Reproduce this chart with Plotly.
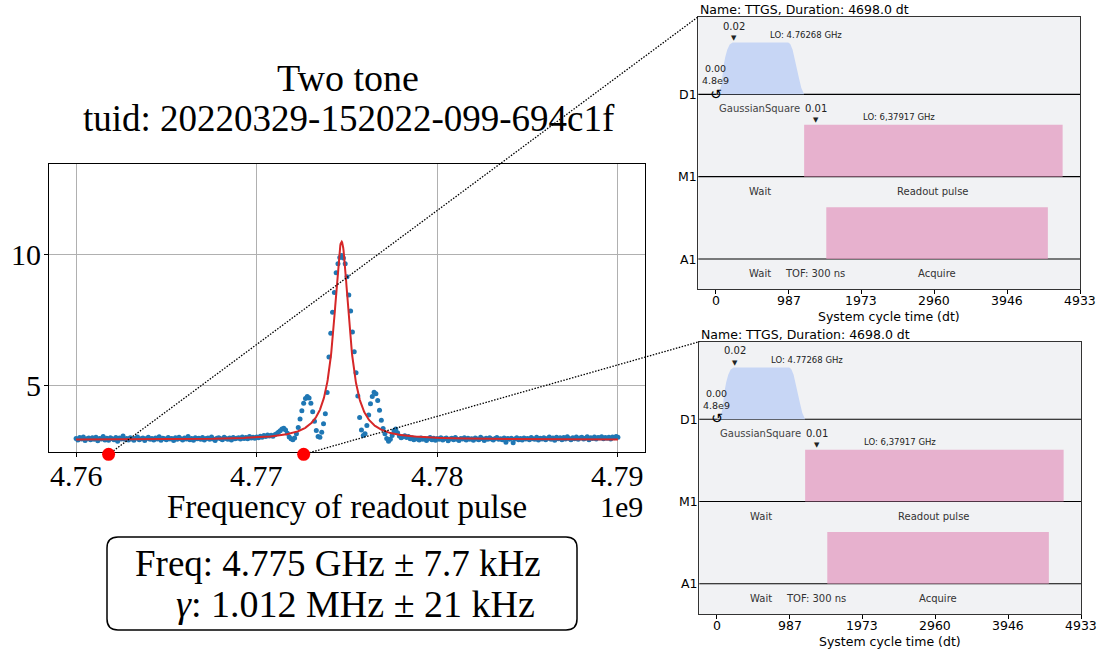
import numpy as np
import plotly.graph_objects as go

W, H = 1098, 652

# ---------------- two-tone sweep ----------------
f_start = 4.760e9
f_stop = 4.790e9
n_points = 301

magnitude = [
    3.00, 2.95, 3.04, 2.98, 3.06, 2.93, 2.99, 3.02, 2.96, 3.03,
    2.97, 3.05, 2.92, 3.00, 2.98, 3.08, 2.95, 3.01, 2.94, 3.03,
    2.99, 2.96, 3.04, 2.90, 3.02, 2.98, 3.10, 2.97, 3.00, 2.95,
    3.03, 2.98, 2.94, 3.01, 3.06, 2.96, 2.99, 3.02, 2.93, 3.00,
    3.05, 2.97, 3.00, 2.95, 3.02, 2.98, 3.07, 2.94, 3.01, 2.99,
    2.96, 3.04, 2.98, 3.00, 2.93, 3.03, 2.97, 3.05, 2.99, 2.95,
    3.02, 2.98, 3.08, 2.96, 3.00, 2.94, 3.03, 2.99, 3.01, 2.97,
    3.04, 2.95, 3.00, 3.02, 2.97, 3.06, 2.98, 2.93, 3.01, 3.03,
    2.99, 2.96, 3.05, 3.00, 2.97, 3.02, 2.95, 3.04, 2.99, 3.01,
    3.03, 2.98, 3.06, 3.00, 3.04, 2.99, 3.08, 3.02, 3.05, 3.01,
    3.06, 3.03, 3.09, 3.05, 3.12, 3.08, 3.14, 3.10, 3.13, 3.09,
    3.15, 3.18, 3.24, 3.30, 3.36, 3.39, 3.33, 3.20, 3.06, 2.99,
    2.96, 3.02, 3.18, 3.42, 3.74, 4.06, 4.34, 4.52, 4.60, 4.54,
    4.34, 4.02, 3.66, 3.31, 3.08, 3.05, 3.24, 3.56, 3.94, 4.75,
    6.10, 7.00, 7.80, 8.55, 9.30, 9.64, 9.88, 9.95, 9.86, 9.64,
    9.15, 8.45, 7.85, 7.05, 6.30, 5.50, 4.62, 3.80, 3.33, 3.12,
    3.18, 3.50, 3.90, 4.32, 4.60, 4.76, 4.70, 4.45, 4.08, 3.70,
    3.38, 3.18, 3.00, 2.90, 2.97, 3.12, 3.30, 3.36, 3.22, 3.10,
    3.03, 3.07, 3.11, 3.04, 3.08, 2.99, 3.03, 2.96, 3.01, 2.98,
    2.95, 3.02, 2.97, 3.00, 2.93, 2.99, 3.04, 2.96, 3.01, 2.94,
    3.00, 2.97, 3.03, 2.95, 2.99, 3.02, 2.92, 2.98, 3.01, 2.96,
    3.04, 2.97, 2.93, 3.00, 2.98, 3.03, 2.95, 3.01, 2.97, 2.99,
    2.94, 3.02, 2.98, 2.96, 3.05, 2.99, 2.93, 3.01, 2.97, 3.03,
    2.98, 2.95, 3.00, 3.04, 2.97, 2.99, 2.96, 3.02, 2.86, 3.00,
    2.97, 3.01, 2.84, 2.98, 3.03, 2.96, 3.00, 2.95, 3.02, 2.98,
    3.00, 2.96, 3.04, 2.99, 2.97, 3.05, 2.95, 3.01, 2.98, 3.03,
    2.96, 3.00, 3.06, 2.97, 3.02, 2.94, 3.05, 2.99, 3.03, 2.96,
    3.04, 2.98, 3.07, 3.00, 2.96, 3.03, 2.99, 3.06, 2.97, 3.02,
    3.05, 2.98, 3.01, 3.07, 2.96, 3.03, 3.00, 3.06, 2.98, 3.04,
    3.02, 3.07, 2.99, 3.04, 3.01, 3.05, 2.98, 3.06, 3.03, 3.08,
    3.05,
]
assert len(magnitude) == n_points
frequency = np.linspace(f_start, f_stop, n_points)

# Lorentzian fit result
fit_f0 = 4.7747e9          # Hz
fit_f0_err = 7.7e3         # Hz
fit_gamma = 1.012e6        # Hz (full width)
fit_gamma_err = 21e3       # Hz
fit_amplitude = 7.52
fit_offset = 2.96

# sweep points picked out for the pulse schedules
marker_freqs = [4.7618e9, 4.7726e9]
marker_level = 2.40

x_ticks = [4.76e9, 4.77e9, 4.78e9, 4.79e9]
y_ticks = [5, 10]

# ---------------- pulse schedule (TTGS) ----------------
duration = 4698
drive_t = [0, 50, 80, 105, 130, 157, 190, 230, 983, 1010, 1042, 1070, 1097, 1130, 1160, 1186, 1198]
drive_env = [0, 0.05, 0.2, 0.53, 0.72, 0.86, 0.96, 1.0, 1.0, 0.97, 0.86, 0.7, 0.53, 0.3, 0.12, 0.02, 0]
readout_start, readout_stop = 1198, 4698
acquire_start, acquire_stop = 1498, 4498
drive_lo = ["LO: 4.76268 GHz", "LO: 4.77268 GHz"]
meas_lo = "LO: 6,37917 GHz"
channels = ["D1", "M1", "A1"]
channel_offset = [2, 1, 0]

# ---------------- geometry ----------------
def px_x(p):
    return p / W

def px_y(p):
    return 1 - p / H

main_xd = [px_x(49), px_x(645)]
main_yd = [px_y(452), px_y(164)]
main_xr = [4.7585e9, 4.7915e9]
main_yr = [2.49, 13.43]

tick_vals = [round(v) for v in np.linspace(0, 1.05 * duration, 6)]

panel_xd = [[px_x(698.3), px_x(1080)], [px_x(699.3), px_x(1081)]]
panel_yd = [[px_y(289.3), px_y(16.7)], [px_y(614), px_y(341.7)]]
panel_xr = [-0.05 * duration, max(1.05 * duration, tick_vals[-1]) + 0.01]
panel_yr = [-0.368, 2.943]
pulse_h = 0.63

SERIF = "Liberation Serif, Times New Roman, serif"
SANS = "DejaVu Sans, sans-serif"

BLUE = "#1f77b4"
FIT_RED = "#d62728"
DRIVE_FILL = "#c7d6f5"
MEAS_FILL = "rgba(226,150,190,0.7)"
PANEL_BG = "#f1f2f4"


# full-figure overlay axes sharing the main frequency/magnitude scale,
# so connectors can run from the sweep plot into the schedule panels
def _extend(r, d):
    slope = (r[1] - r[0]) / (d[1] - d[0])
    return [r[0] - d[0] * slope, r[1] + (1 - d[1]) * slope]

over_xr = _extend(main_xr, main_xd)
over_yr = _extend(main_yr, main_yd)


def paper_to_over(px, py):
    return (over_xr[0] + px * (over_xr[1] - over_xr[0]),
            over_yr[0] + py * (over_yr[1] - over_yr[0]))


fig = go.Figure()

# measured data and fit
fig.add_trace(go.Scatter(
    x=frequency, y=magnitude, mode="markers",
    marker=dict(color=BLUE, size=5),
    xaxis="x", yaxis="y"))

f_fine = np.linspace(f_start, f_stop, 1500)
hw = fit_gamma / 2
fit_curve = fit_offset + fit_amplitude * hw**2 / ((f_fine - fit_f0) ** 2 + hw**2)
fig.add_trace(go.Scatter(
    x=f_fine, y=fit_curve, mode="lines",
    line=dict(color=FIT_RED, width=2),
    xaxis="x", yaxis="y"))

fig.update_layout(
    xaxis=dict(domain=main_xd, range=main_xr, tickvals=x_ticks,
               showticklabels=False,
               showgrid=True, gridcolor="#b0b0b0", gridwidth=1,
               showline=True, linecolor="black", linewidth=1.2, mirror=True,
               ticks="outside", ticklen=4, tickcolor="black",
               zeroline=False, anchor="y"),
    yaxis=dict(domain=main_yd, range=main_yr, tickvals=y_ticks,
               showticklabels=False,
               showgrid=True, gridcolor="#b0b0b0", gridwidth=1,
               showline=True, linecolor="black", linewidth=1.2, mirror=True,
               ticks="outside", ticklen=4, tickcolor="black",
               zeroline=False, anchor="x"),
    xaxis4=dict(domain=[0, 1], range=over_xr, anchor="y4",
                showgrid=False, zeroline=False, showline=False,
                showticklabels=False, ticks=""),
    yaxis4=dict(domain=[0, 1], range=over_yr, anchor="x4",
                showgrid=False, zeroline=False, showline=False,
                showticklabels=False, ticks=""),
)

annotations = []
shapes = []

tick_font = dict(family=SERIF, size=30, color="black")
for v in x_ticks:
    annotations.append(dict(text=f"{v / 1e9:.2f}", x=v, y=px_y(475), xref="x", yref="paper",
                            showarrow=False, xanchor="center", yanchor="middle",
                            font=tick_font))
for v in y_ticks:
    annotations.append(dict(text=str(v), x=px_x(43), y=v, xref="paper", yref="y",
                            showarrow=False, xanchor="right", yanchor="middle",
                            font=tick_font))

annotations += [
    dict(text="Two tone", x=px_x(348), y=px_y(78), xref="paper", yref="paper",
         showarrow=False, font=dict(family=SERIF, size=38, color="black"),
         xanchor="center", yanchor="middle"),
    dict(text="tuid: 20220329-152022-099-694c1f", x=px_x(349), y=px_y(118),
         xref="paper", yref="paper", showarrow=False,
         font=dict(family=SERIF, size=37, color="black"),
         xanchor="center", yanchor="middle"),
    dict(text="Frequency of readout pulse", x=px_x(347), y=px_y(507),
         xref="paper", yref="paper", showarrow=False,
         font=dict(family=SERIF, size=33, color="black"),
         xanchor="center", yanchor="middle"),
    dict(text="1e9", x=main_xd[1], y=px_y(507), xref="paper", yref="paper",
         showarrow=False, font=dict(family=SERIF, size=30, color="black"),
         xanchor="right", yanchor="middle"),
    dict(text=f"Freq: {fit_f0 / 1e9:.3f} GHz ± {fit_f0_err / 1e3:.1f} kHz",
         x=px_x(338), y=px_y(563), xref="paper", yref="paper", showarrow=False,
         font=dict(family=SERIF, size=37, color="black"),
         xanchor="center", yanchor="middle"),
    dict(text=f"<i>γ</i>: {fit_gamma / 1e6:.3f} MHz ± {fit_gamma_err / 1e3:.0f} kHz",
         x=px_x(355), y=px_y(604), xref="paper", yref="paper", showarrow=False,
         font=dict(family=SERIF, size=38, color="black"),
         xanchor="center", yanchor="middle"),
]

# rounded result box
bx0, bx1 = px_x(107), px_x(577)
by0, by1 = px_y(630), px_y(537)
rx, ry = 11 / W, 11 / H
box_path = (f"M {bx0 + rx},{by1} L {bx1 - rx},{by1} Q {bx1},{by1} {bx1},{by1 - ry} "
            f"L {bx1},{by0 + ry} Q {bx1},{by0} {bx1 - rx},{by0} "
            f"L {bx0 + rx},{by0} Q {bx0},{by0} {bx0},{by0 + ry} "
            f"L {bx0},{by1 - ry} Q {bx0},{by1} {bx0 + rx},{by1} Z")
shapes.append(dict(type="path", path=box_path, xref="paper", yref="paper",
                   line=dict(color="black", width=1.5), fillcolor="rgba(0,0,0,0)"))

for k in range(2):
    xa = f"x{k + 2}"
    ya = f"y{k + 2}"
    xd, yd = panel_xd[k], panel_yd[k]
    fig.layout[f"xaxis{k + 2}"] = dict(
        domain=xd, range=panel_xr, anchor=ya, tickvals=tick_vals,
        showticklabels=False,
        showgrid=False, zeroline=False, showline=True, linecolor="#333",
        linewidth=1.2, mirror=True, ticks="outside", ticklen=4,
        tickcolor="black")
    fig.layout[f"yaxis{k + 2}"] = dict(
        domain=yd, range=panel_yr, anchor=xa, showticklabels=False,
        showgrid=False, zeroline=False, showline=True, linecolor="#333",
        linewidth=1.2, mirror=True, ticks="")

    for tv in tick_vals:
        annotations.append(dict(text=str(tv), x=tv, y=yd[0], xref=xa, yref="paper",
                                showarrow=False, xanchor="center", yanchor="middle",
                                yshift=-11.5, borderpad=0,
                                font=dict(family=SANS, size=12.5, color="black")))

    shapes.append(dict(type="rect", xref=f"{xa} domain", yref=f"{ya} domain",
                       x0=0, x1=1, y0=0, y1=1, fillcolor=PANEL_BG,
                       line=dict(width=0), layer="below"))
    for off in channel_offset:
        shapes.append(dict(type="line", xref=f"{xa} domain", yref=ya,
                           x0=0, x1=1, y0=off, y1=off,
                           line=dict(color="black", width=1.2), layer="below"))

    # drive pulse envelope
    fig.add_trace(go.Scatter(
        x=drive_t, y=[channel_offset[0] + pulse_h * a for a in drive_env],
        mode="lines", fill="toself", fillcolor=DRIVE_FILL,
        line=dict(width=0), xaxis=xa, yaxis=ya))
    # readout & acquisition windows
    for ch, (s, e) in ((1, (readout_start, readout_stop)), (2, (acquire_start, acquire_stop))):
        base = channel_offset[ch]
        fig.add_trace(go.Scatter(
            x=[s, s, e, e, s], y=[base, base + pulse_h, base + pulse_h, base, base],
            mode="lines", fill="toself", fillcolor=MEAS_FILL,
            line=dict(width=0), xaxis=xa, yaxis=ya))

    def note(text, x, y, size=10, color="#222", anchor="center"):
        annotations.append(dict(text=text, x=x, y=y, xref=xa, yref=ya,
                                showarrow=False, xanchor=anchor, yanchor="middle",
                                borderpad=0,
                                font=dict(family=SANS, size=size, color=color)))

    drive_mid = (drive_t[0] + drive_t[-1]) / 2
    note("0.02", 252, 2.83)
    note("▼", 252, 2.685, size=7)
    note(drive_lo[k], 1219, 2.724, size=8.5)
    note("0.00<br>4.8e9", 0, 2.24, size=9.5)
    note("↺", 0, 2.01, size=14, color="black")
    note("GaussianSquare", drive_mid, 1.83, color="#444")
    note("0.01", 1362, 1.83)
    note("▼", 1362, 1.688, size=7)
    note(meas_lo, 2482, 1.72, size=8.5)
    note("Wait", drive_mid, 0.815, color="#333")
    note("Readout pulse", (readout_start + readout_stop) / 2, 0.815, color="#333")
    note("Wait", drive_mid, -0.18, color="#333")
    note("TOF: 300 ns", (readout_start + acquire_start) / 2, -0.18, color="#333")
    note("Acquire", (acquire_start + acquire_stop) / 2, -0.18, color="#333")

    for name, off in zip(channels, channel_offset):
        annotations.append(dict(text=name, x=xd[0], y=off, xref="paper", yref=ya,
                                showarrow=False, xanchor="right", yanchor="middle",
                                xshift=1,
                                font=dict(family=SANS, size=12.5, color="black")))
    annotations.append(dict(text=f"Name: TTGS, Duration: {duration:.1f} dt",
                            x=xd[0], y=yd[1], xref="paper", yref="paper",
                            showarrow=False, xanchor="left", yanchor="bottom",
                            yshift=-2,
                            font=dict(family=SANS, size=12.5, color="black")))
    annotations.append(dict(text="System cycle time (dt)",
                            x=(xd[0] + xd[1]) / 2, y=yd[0], xref="paper", yref="paper",
                            showarrow=False, xanchor="center", yanchor="middle",
                            yshift=-27.5, borderpad=0,
                            font=dict(family=SANS, size=12.5, color="black")))

    # dotted connector from the picked sweep point to the schedule corner
    cx, cy = paper_to_over(xd[0], yd[1])
    fig.add_trace(go.Scatter(
        x=[marker_freqs[k], cx], y=[marker_level, cy], mode="lines",
        line=dict(color="black", width=1.3, dash="1.5px,1.5px"),
        xaxis="x4", yaxis="y4", hoverinfo="skip"))

# picked sweep points
fig.add_trace(go.Scatter(
    x=marker_freqs, y=[marker_level] * len(marker_freqs), mode="markers",
    marker=dict(color="#ff0000", size=13),
    xaxis="x4", yaxis="y4"))

fig.update_layout(
    width=W, height=H, autosize=False,
    margin=dict(l=0, r=0, t=0, b=0, pad=0, autoexpand=False),
    paper_bgcolor="white", plot_bgcolor="rgba(0,0,0,0)", showlegend=False,
    annotations=annotations, shapes=shapes,
)

fig.write_html("out.html")
